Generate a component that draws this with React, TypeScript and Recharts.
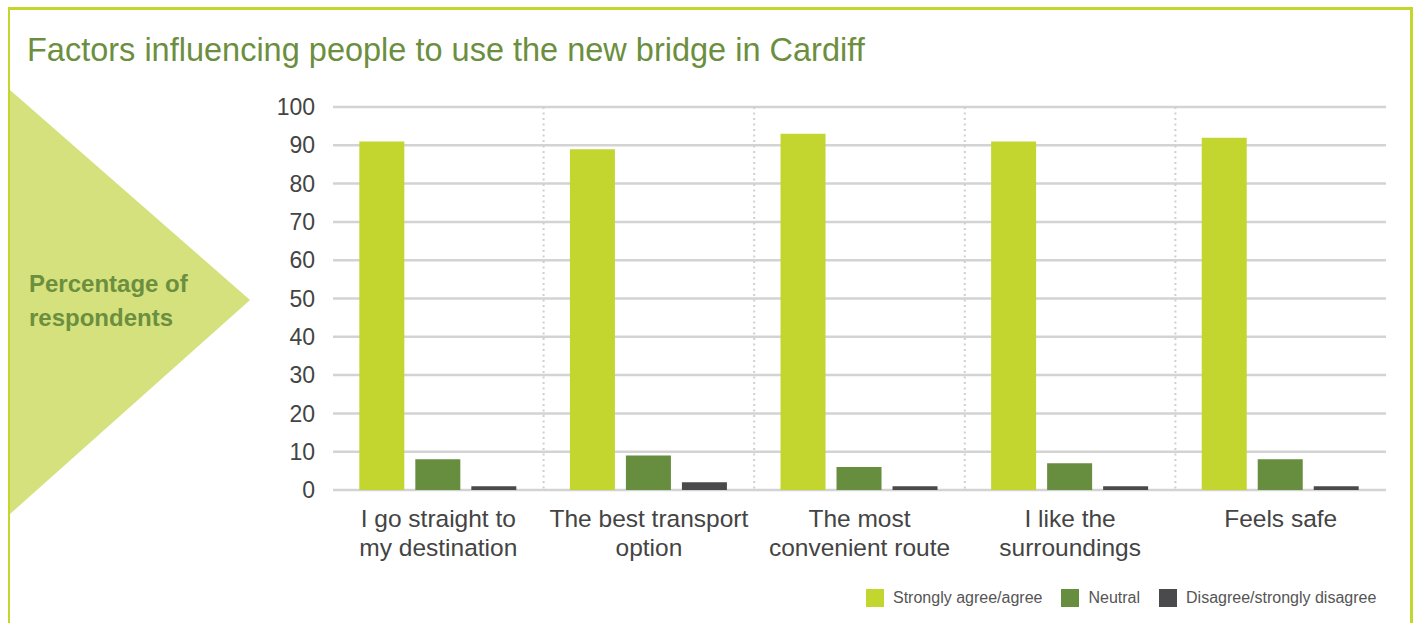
import { Bar, BarChart, CartesianGrid, XAxis, YAxis } from "recharts";

const categories = [
  "I go straight to\nmy destination",
  "The best transport\noption",
  "The most\nconvenient route",
  "I like the\nsurroundings",
  "Feels safe",
];
const agree = [91, 89, 93, 91, 92];
const neutral = [8, 9, 6, 7, 8];
const disagree = [1, 2, 1, 1, 1];
const yTicks = [0, 10, 20, 30, 40, 50, 60, 70, 80, 90, 100];

const series = [
  { key: "agree", name: "Strongly agree/agree", color: "#c2d62f" },
  { key: "neutral", name: "Neutral", color: "#678d3e" },
  { key: "disagree", name: "Disagree/strongly disagree", color: "#4a4a4c" },
];

const data = categories.map((label, i) => ({
  label,
  agree: agree[i],
  neutral: neutral[i],
  disagree: disagree[i],
}));

const FONT = '"Liberation Sans", Arial, Helvetica, sans-serif';

function CategoryTick(props: any) {
  const { x, y, payload } = props;
  const lines = String(payload.value).split("\n");
  return (
    <text
      x={x}
      y={y}
      textAnchor="middle"
      fill="#444"
      fontSize={24.5}
      fontFamily={FONT}
    >
      {lines.map((line, i) => (
        <tspan key={i} x={x} y={y + 37 + i * 28.5}>
          {line}
        </tspan>
      ))}
    </text>
  );
}

export default function App() {
  return (
    <div
      style={{
        position: "absolute",
        left: 0,
        top: 0,
        width: 1418,
        height: 623,
        background: "#fff",
        overflow: "hidden",
        fontFamily: FONT,
      }}
    >
      <div
        style={{
          position: "absolute",
          left: 8,
          top: 7,
          width: 1400,
          height: 700,
          border: "3px solid #c4d62e",
          borderLeftWidth: 2,
        }}
      />
      <svg
        width={260}
        height={440}
        style={{ position: "absolute", left: 0, top: 80 }}
      >
        <polygon points="10,10 250,220 10,434" fill="#d5e17c" />
      </svg>
      <div
        style={{
          position: "absolute",
          left: 27,
          top: 32,
          fontSize: 32.5,
          color: "#6b8f3f",
          whiteSpace: "nowrap",
        }}
      >
        Factors influencing people to use the new bridge in Cardiff
      </div>
      <div
        style={{
          position: "absolute",
          left: 29,
          top: 267,
          fontSize: 24,
          fontWeight: "bold",
          lineHeight: "34px",
          color: "#6b8f3f",
        }}
      >
        Percentage of
        <br />
        respondents
      </div>
      <div style={{ position: "absolute", left: 0, top: 0 }}>
        <BarChart
          width={1418}
          height={623}
          data={data}
          margin={{ top: 107, right: 32, bottom: 73, left: 273 }}
          barCategoryGap="12.5%"
          barGap={11}
        >
          <CartesianGrid
            vertical={false}
            stroke="#d3d3d3"
            strokeWidth={2.5}
          />
          <CartesianGrid
            horizontal={false}
            stroke="#cfcfcf"
            strokeWidth={2}
            strokeDasharray="2 3.5"
            verticalCoordinatesGenerator={({ offset }: any) =>
              [1, 2, 3, 4].map(
                (i) => offset.left + (i * offset.width) / categories.length
              )
            }
          />
          <XAxis
            dataKey="label"
            height={60}
            axisLine={false}
            tickLine={false}
            tickSize={0}
            tickMargin={0}
            interval={0}
            tick={<CategoryTick />}
          />
          <YAxis
            width={60}
            domain={[0, 100]}
            ticks={yTicks}
            axisLine={false}
            tickLine={false}
            tickSize={0}
            tickMargin={18}
            tick={{ fill: "#444", fontSize: 23, fontFamily: FONT }}
          />
          {series.map((s) => (
            <Bar
              key={s.key}
              dataKey={s.key}
              name={s.name}
              fill={s.color}
              isAnimationActive={false}
            />
          ))}
        </BarChart>
      </div>
      <div
        style={{
          position: "absolute",
          left: 866,
          top: 589,
          display: "flex",
          alignItems: "center",
          fontSize: 16,
          color: "#555",
          whiteSpace: "nowrap",
        }}
      >
        {series.map((s) => (
          <div
            key={s.key}
            style={{ display: "flex", alignItems: "center", marginRight: 19 }}
          >
            <span
              style={{
                display: "inline-block",
                width: 18,
                height: 18,
                background: s.color,
                marginRight: 9,
              }}
            />
            {s.name}
          </div>
        ))}
      </div>
    </div>
  );
}
